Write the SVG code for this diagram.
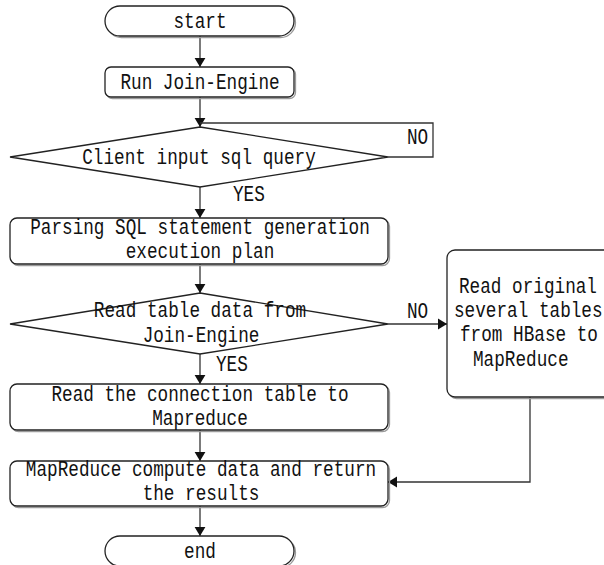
<svg xmlns="http://www.w3.org/2000/svg" width="604" height="565" viewBox="0 0 604 565">
  <defs>
    <marker id="arrow" viewBox="0 0 10 12" refX="10" refY="6" markerWidth="9" markerHeight="12" markerUnits="userSpaceOnUse" orient="auto">
      <path d="M0,0 L10,6 L0,12 z" fill="#111"/>
    </marker>
  </defs>
  <style>
    .shape { fill: #ffffff; stroke: #222222; stroke-width: 1.3; }
    .shadow { fill: none; stroke: #9a9a9a; stroke-width: 1.3; }
    .conn { fill: none; stroke: #333333; stroke-width: 1.3; }
    text { font-family: "Liberation Mono", "DejaVu Sans Mono", monospace; font-size: 17.7px; fill: #111111; }
    .c { text-anchor: middle; }
  </style>
  <rect width="604" height="565" fill="#ffffff"/>

  <g id="connectors">
    <path class="conn" d="M200,36 V67" marker-end="url(#arrow)"/>
    <path class="conn" d="M200,97 V127" marker-end="url(#arrow)"/>
    <path class="conn" d="M388,157 H433 V123 H200"/>
    <path class="conn" d="M200,187 V218" marker-end="url(#arrow)"/>
    <path class="conn" d="M200,264 V293" marker-end="url(#arrow)"/>
    <path class="conn" d="M200,354 V384" marker-end="url(#arrow)"/>
    <path class="conn" d="M388,324 H447" marker-end="url(#arrow)"/>
    <path class="conn" d="M200,430 V461" marker-end="url(#arrow)"/>
    <path class="conn" d="M530,397 V482 H388" marker-end="url(#arrow)"/>
    <path class="conn" d="M200,506 V536" marker-end="url(#arrow)"/>
    <text transform="translate(407,144) scale(1,1.24)">NO</text>
    <text transform="translate(233,201) scale(1,1.24)">YES</text>
    <text transform="translate(407,318) scale(1,1.24)">NO</text>
    <text transform="translate(216,371) scale(1,1.24)">YES</text>
  </g>

  <g id="start">
    <rect class="shadow" x="106.5" y="7.5" width="189" height="30" rx="15"/>
    <rect class="shape" x="105" y="6" width="189" height="30" rx="15"/>
    <text class="c" transform="translate(200,28) scale(1,1.24)">start</text>
  </g>

  <g id="run">
    <rect class="shadow" x="106.5" y="68.5" width="189" height="30" rx="6"/>
    <rect class="shape" x="105" y="67" width="189" height="30" rx="6"/>
    <text class="c" transform="translate(200,89) scale(1,1.24)">Run Join-Engine</text>
  </g>

  <g id="decision1">
    <polygon class="shape" points="200,127 388,157 200,187 10,157"/>
    <text class="c" transform="translate(199,164) scale(1,1.24)">Client input sql query</text>
  </g>

  <g id="parse">
    <rect class="shadow" x="11.5" y="219.5" width="378" height="46" rx="7"/>
    <rect class="shape" x="10" y="218" width="378" height="46" rx="7"/>
    <text class="c" transform="translate(200,234) scale(1,1.24)">Parsing SQL statement generation</text>
    <text class="c" transform="translate(200,258) scale(1,1.24)">execution plan</text>
  </g>

  <g id="decision2">
    <polygon class="shape" points="200,293 388,324 200,354 10,324"/>
    <text class="c" transform="translate(200,317) scale(1,1.24)">Read table data from</text>
    <text class="c" transform="translate(201,342) scale(1,1.24)">Join-Engine</text>
  </g>

  <g id="readconn">
    <rect class="shadow" x="11.5" y="385.5" width="378" height="46" rx="7"/>
    <rect class="shape" x="10" y="384" width="378" height="46" rx="7"/>
    <text class="c" transform="translate(200,401) scale(1,1.24)">Read the connection table to</text>
    <text class="c" transform="translate(200,425) scale(1,1.24)">Mapreduce</text>
  </g>

  <g id="readhbase">
    <rect class="shadow" x="448.5" y="251.5" width="166" height="147" rx="8"/>
    <rect class="shape" x="447" y="250" width="166" height="147" rx="8"/>
    <text transform="translate(459,293) scale(1,1.24)">Read original</text>
    <text transform="translate(454,317) scale(1,1.24)">several tables</text>
    <text transform="translate(460,341) scale(1,1.24)">from HBase to</text>
    <text transform="translate(473,366) scale(1,1.24)">MapReduce</text>
  </g>

  <g id="compute">
    <rect class="shadow" x="11.5" y="462.5" width="378" height="45" rx="7"/>
    <rect class="shape" x="10" y="461" width="378" height="45" rx="7"/>
    <text class="c" transform="translate(201,476) scale(1,1.24)">MapReduce compute data and return</text>
    <text class="c" transform="translate(201,500) scale(1,1.24)">the results</text>
  </g>

  <g id="end">
    <rect class="shadow" x="106.5" y="537.5" width="189" height="30" rx="15"/>
    <rect class="shape" x="105" y="536" width="189" height="30" rx="15"/>
    <text class="c" transform="translate(200,558) scale(1,1.24)">end</text>
  </g>
</svg>
